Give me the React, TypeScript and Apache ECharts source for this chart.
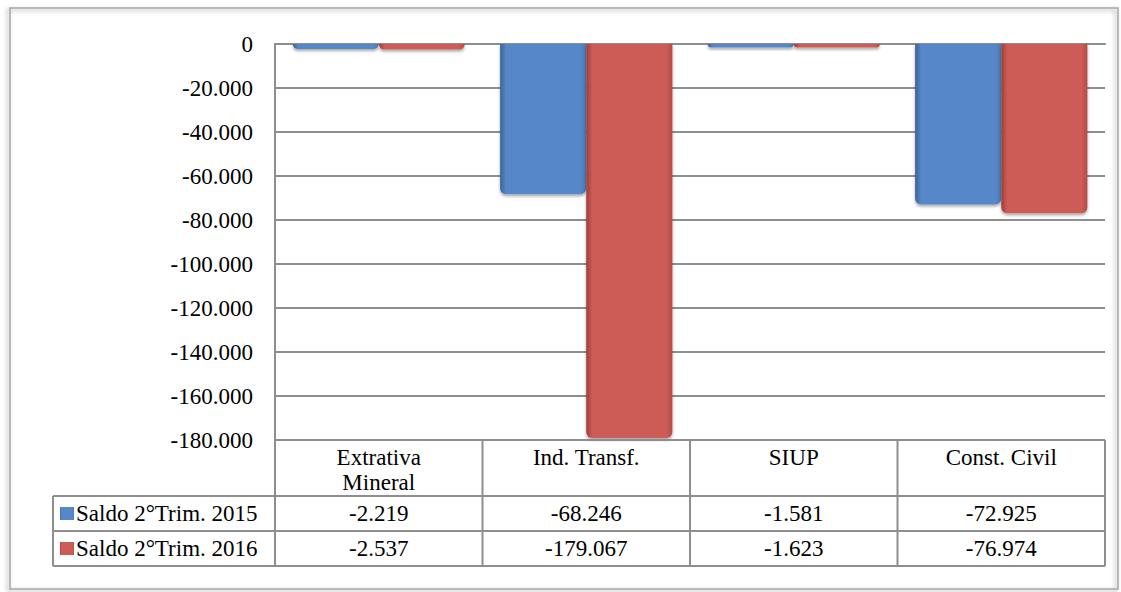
import React, { useEffect, useRef } from "react";
import * as echarts from "echarts";

const categories = ["Extrativa\nMineral", "Ind. Transf.", "SIUP", "Const. Civil"];
const seriesNames = ["Saldo 2°Trim. 2015", "Saldo 2°Trim. 2016"];
const saldo2015 = [-2219, -68246, -1581, -72925];
const saldo2016 = [-2537, -179067, -1623, -76974];
const yMin = -180000;
const yMax = 0;
const yInterval = 20000;

const FONT = "Liberation Serif";
const FS = 23;
const LINE = "#8e8e8e";

const GRID_LEFT = 275;
const GRID_TOP = 44;
const GRID_WIDTH = 830;
const GRID_HEIGHT = 396;
const TABLE_LEFT = 53;
const ROW1 = 496;
const ROW2 = 531;
const ROW3 = 566;

function fmt(v: number): string {
  const neg = v < 0;
  const s = Math.abs(Math.round(v)).toString().replace(/\B(?=(\d{3})+(?!\d))/g, ".");
  return (neg ? "-" : "") + s;
}

function gradient(edgeL: string, mid: string, edgeR: string) {
  return new echarts.graphic.LinearGradient(1, 0, 0, 0, [
    { offset: 0, color: edgeR },
    { offset: 0.07, color: mid },
    { offset: 0.93, color: mid },
    { offset: 1, color: edgeL },
  ]);
}

export default function App() {
  const ref = useRef<HTMLDivElement>(null);
  useEffect(() => {
    document.body.style.margin = "0";
    if (!ref.current) return;
    const chart = echarts.init(ref.current, undefined, { renderer: "svg" });
    const bottom = GRID_TOP + GRID_HEIGHT;
    const catW = GRID_WIDTH / categories.length;
    const lines: any[] = [];
    const addLine = (x1: number, y1: number, x2: number, y2: number) =>
      lines.push({
        type: "line",
        shape: { x1, y1, x2, y2 },
        style: { stroke: LINE, lineWidth: 2 },
        z: 10,
      });
    addLine(GRID_LEFT, bottom, GRID_LEFT + GRID_WIDTH, bottom);
    [ROW1, ROW2, ROW3].forEach((y) => addLine(TABLE_LEFT, y, GRID_LEFT + GRID_WIDTH, y));
    addLine(TABLE_LEFT, ROW1, TABLE_LEFT, ROW3);
    addLine(GRID_LEFT, bottom, GRID_LEFT, ROW3);
    for (let i = 1; i <= categories.length; i++) {
      const x = GRID_LEFT + catW * i;
      addLine(x, bottom, x, ROW3);
    }

    const valueAxis = (offset: number, data: number[]) => ({
      type: "category",
      data: categories,
      position: "bottom",
      offset,
      axisLine: { show: false },
      axisTick: { show: false },
      splitLine: { show: false },
      axisLabel: {
        interval: 0,
        margin: 5,
        fontFamily: FONT,
        fontSize: FS,
        lineHeight: 25,
        color: "#000",
        formatter: (_v: string, i: number) => fmt(data[i]),
      },
    });

    chart.setOption({
      animation: false,
      backgroundColor: "#fff",
      textStyle: { fontFamily: FONT },
      grid: { left: GRID_LEFT, top: GRID_TOP, width: GRID_WIDTH, height: GRID_HEIGHT },
      legend: {
        orient: "vertical",
        left: 60,
        top: 502,
        padding: 0,
        itemGap: 12,
        itemWidth: 14,
        itemHeight: 13,
        icon: "rect",
        textStyle: { fontFamily: FONT, fontSize: FS, lineHeight: 23, color: "#000", padding: [0, 0, 0, -3] },
        data: seriesNames,
      },
      xAxis: [
        {
          type: "category",
          data: categories,
          position: "top",
          axisLine: { show: true, lineStyle: { color: LINE, width: 2 } },
          axisTick: { show: false },
          axisLabel: { show: false },
          splitLine: { show: false },
        },
        {
          type: "category",
          data: categories,
          position: "bottom",
          offset: 0,
          axisLine: { show: false },
          axisTick: { show: false },
          axisLabel: {
            interval: 0,
            margin: 5,
            fontFamily: FONT,
            fontSize: FS,
            lineHeight: 25,
            color: "#000",
          },
        },
        valueAxis(56, saldo2015),
        valueAxis(91, saldo2016),
      ],
      yAxis: {
        type: "value",
        min: yMin,
        max: yMax,
        interval: yInterval,
        axisLine: { show: true, lineStyle: { color: LINE, width: 2 } },
        axisTick: { show: false },
        splitLine: { show: true, lineStyle: { color: LINE, width: 2 } },
        axisLabel: {
          margin: 22,
          fontFamily: FONT,
          fontSize: FS,
          color: "#000",
          formatter: (v: number) => fmt(v),
        },
      },
      series: [
        {
          name: seriesNames[0],
          type: "bar",
          xAxisIndex: 0,
          data: saldo2015,
          barGap: "0%",
          barCategoryGap: "17%",
          itemStyle: {
            color: gradient("#3d6294", "#5687c8", "#4a79b5"),
            borderRadius: [0, 0, 6, 6],
            shadowColor: "rgba(0,0,0,0.35)",
            shadowBlur: 3,
            shadowOffsetY: 2,
          },
        },
        {
          name: seriesNames[1],
          type: "bar",
          xAxisIndex: 0,
          data: saldo2016,
          barGap: "0%",
          barCategoryGap: "17%",
          itemStyle: {
            color: gradient("#9c3e3a", "#cd5b56", "#b54c48"),
            borderRadius: [0, 0, 6, 6],
            shadowColor: "rgba(0,0,0,0.35)",
            shadowBlur: 3,
            shadowOffsetY: 2,
          },
        },
      ],
      graphic: [
        {
          type: "rect",
          shape: { x: 10, y: 8, width: 1108, height: 581 },
          style: {
            fill: "rgba(0,0,0,0)",
            stroke: "#a6a6a6",
            lineWidth: 1.5,
            shadowColor: "rgba(0,0,0,0.35)",
            shadowBlur: 4,
            shadowOffsetX: -2,
            shadowOffsetY: 2,
          },
          z: -10,
        },
        ...lines,
      ],
    });
    return () => chart.dispose();
  }, []);
  return <div ref={ref} style={{ width: 1121, height: 592 }} />;
}
